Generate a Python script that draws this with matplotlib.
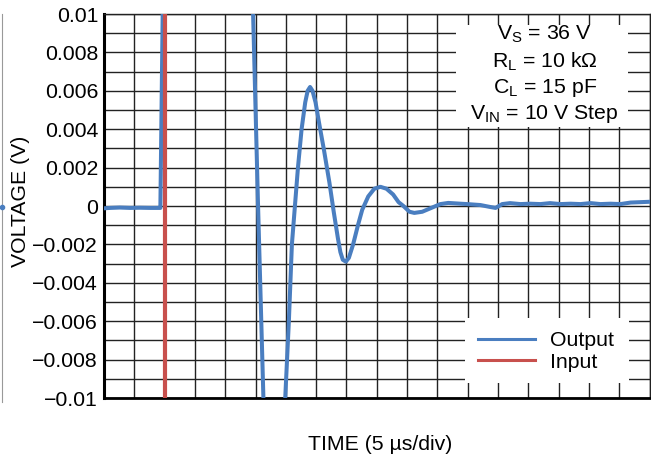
import matplotlib
import matplotlib.pyplot as plt
from matplotlib.lines import Line2D
from matplotlib.patches import Rectangle

matplotlib.use('Agg')
plt.rcParams['font.family'] = ['Liberation Sans', 'DejaVu Sans']

# time in us (5 us/div), voltage in V
out_t = [0.0, 1.0, 2.6, 4.3, 5.9, 7.6, 8.9, 9.3, 9.7, 12.0, 20.0, 24.6, 25.4, 26.3,
         28.0, 29.9, 30.5, 31.0, 31.5, 32.0, 32.6, 33.2, 33.6, 34.0, 34.4, 34.9,
         35.5, 36.3, 37.2, 37.9, 38.6, 39.0, 39.4, 39.9, 40.4, 41.1, 41.9, 42.6, 43.6,
         44.6, 45.6, 46.6, 47.7, 48.6, 49.4, 50.4, 51.2, 52.5, 54.0, 55.5, 56.8,
         58.8, 59.9, 62.1, 63.7, 64.6, 65.7, 67.0, 68.7, 70.3, 72.0,
         73.6, 75.3, 77.0, 78.6, 80.3, 81.9, 83.6, 85.2, 86.9, 88.5, 90.0]
out_v = [-0.00012, -0.0001, -0.00008, -0.0001, -0.00009, -0.0001, -0.0001, -0.0001,
         0.0105, 0.05, 0.05, 0.0100, 0.0002, -0.0100,
         -0.05, -0.0100, -0.0060, -0.0020, 0.0000, 0.0020, 0.0040, 0.0054, 0.0060,
         0.0062, 0.0060, 0.0054, 0.0043, 0.0029, 0.0012, -0.0003, -0.0017, -0.0024,
         -0.0028, -0.0029, -0.0027, -0.0020, -0.0010, -0.0002, 0.0005, 0.0009, 0.0010,
         0.0009, 0.0006, 0.0002, 0.0000, -0.0003, -0.00036, -0.0003, -0.0001, 0.0001,
         0.00016, 0.00012, 0.0001, 0.00005, -0.00005, -0.0001, 0.0001, 0.00015,
         0.0001, 0.00012, 0.0001, 0.00015, 0.0001, 0.00012, 0.0001, 0.00015, 0.0001,
         0.00012, 0.0001, 0.00018, 0.0002, 0.00022]
in_t = [10.0, 10.0]
in_v = [-0.05, 10.0]

conditions = ['V$_\\mathregular{S}$ = 36 V', 'R$_\\mathregular{L}$ = 10 k\u03a9',
              'C$_\\mathregular{L}$ = 15 pF', 'V$_\\mathregular{IN}$ = 10 V Step']

blue = '#4a7ec0'
red = '#c8504d'
fs = 15.3

fig = plt.figure(figsize=(6.51, 4.55), dpi=100)
ax = fig.add_axes([104 / 651, 57 / 455, 545.5 / 651, 384 / 455])

ax.plot(out_t, out_v, color=blue, lw=2.9, zorder=3, solid_joinstyle='round')
ax.plot(in_t, in_v, color=red, lw=3.0, zorder=3)

ax.set_xlim(0, 90)
ax.set_ylim(-0.01, 0.01)
ax.set_xticks(range(0, 91, 5))
ax.set_xticklabels([])
ax.set_yticks([-0.01 + 0.002 * i for i in range(11)])
ax.set_yticklabels(['\u22120.01', '\u22120.008', '\u22120.006', '\u22120.004', '\u22120.002',
                    '0', '0.002', '0.004', '0.006', '0.008', '0.01'])
ax.set_yticks([-0.009 + 0.002 * i for i in range(10)], minor=True)
ax.tick_params(axis='both', which='both', length=0, labelsize=fs, pad=4.3)
ax.set_axisbelow(True)
ax.grid(True, which='both', color='#222222', lw=1.0)

for s in ['top', 'right']:
    ax.spines[s].set_linewidth(1.0)
    ax.spines[s].set_color('#222222')
ax.spines['left'].set_linewidth(2.2)
ax.spines['bottom'].set_linewidth(2.0)

ax.set_ylabel('VOLTAGE (V)', fontsize=fs)
ax.yaxis.set_label_coords(-0.135, 0.513)
ax.set_xlabel('TIME (5 \u00b5s/div)', fontsize=fs, va='top')
ax.xaxis.set_label_coords(0.507, -0.097)

# conditions box
ax.add_patch(Rectangle((58.0, 0.00411), 28.4, 0.00532, facecolor='white',
                       edgecolor='none', zorder=1.5))
for txt, yb in zip(conditions, [0.0087, 0.00724, 0.00589, 0.00453]):
    ax.text(72.7, yb, txt, ha='center', va='baseline', fontsize=fs, zorder=4)

# legend box
ax.add_patch(Rectangle((59.6, -0.00922), 27.1, 0.00339, facecolor='white',
                       edgecolor='none', zorder=1.5))
handles = [Line2D([], [], color=blue, lw=2.2), Line2D([], [], color=red, lw=2.2)]
ax.legend(handles, ['Output', 'Input'], loc='center', bbox_to_anchor=(72.9, -0.00758),
          bbox_transform=ax.transData, frameon=False, fontsize=fs,
          handlelength=2.7, handletextpad=0.7, labelspacing=0.1, borderpad=0)

# edge of neighbouring figure
fig.add_artist(Line2D([1.5 / 651, 1.5 / 651], [53 / 455, 441 / 455], color='#999999', lw=0.8))
fig.add_artist(Line2D([1.5 / 651], [248 / 455], color=blue, marker='o', ms=3, lw=0))

fig.savefig('out.png', dpi=100)
